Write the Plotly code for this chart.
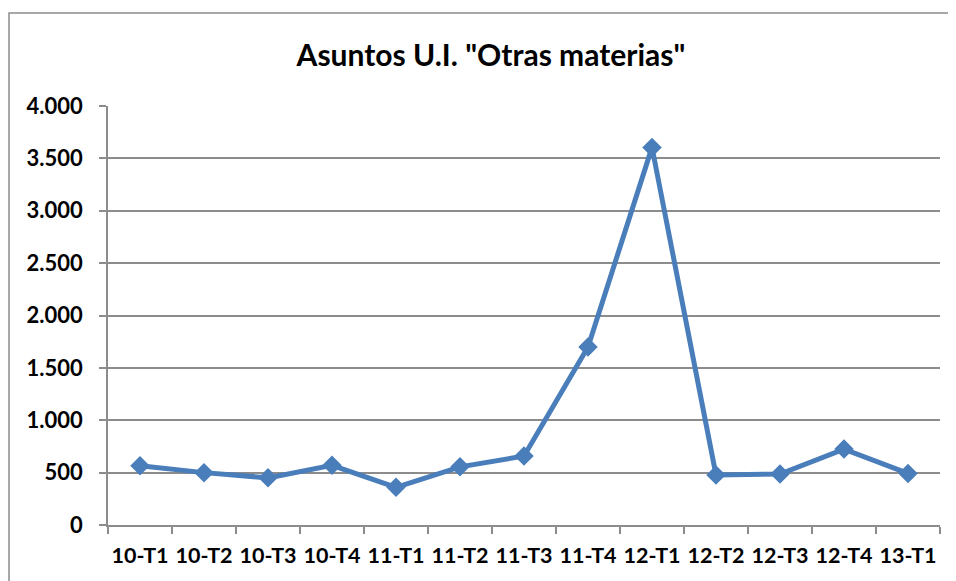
import plotly.graph_objects as go

categories = ["10-T1", "10-T2", "10-T3", "10-T4", "11-T1", "11-T2", "11-T3",
              "11-T4", "12-T1", "12-T2", "12-T3", "12-T4", "13-T1"]
values = [565, 500, 450, 570, 360, 555, 658, 1700, 3605, 477, 487, 725, 492]
y_ticks = [0, 500, 1000, 1500, 2000, 2500, 3000, 3500, 4000]
y_tick_text = ["0", "500", "1.000", "1.500", "2.000", "2.500", "3.000", "3.500", "4.000"]

BLUE = "#4a7ebb"
GRID = "#8c8c8c"
FONT = "Lato"

fig = go.Figure()
fig.add_trace(go.Scatter(
    x=categories, y=values, mode="lines+markers",
    line=dict(color=BLUE, width=5),
    marker=dict(symbol="diamond", size=15, color=BLUE),
    showlegend=False, hoverinfo="x+y",
))

# page body has an 8px default margin
OFF = 8
W, H = 956 - OFF, 581 - OFF
L, R, T, B = 108 - OFF, 16, 106 - OFF, 56
pw, ph = W - L - R, H - T - B

def px(x):
    return (x - OFF - L) / pw

def py(y):
    return (H - B - (y - OFF)) / ph

fig.update_layout(
    width=W, height=H,
    margin=dict(l=L, r=R, t=T, b=B, autoexpand=False),
    paper_bgcolor="white", plot_bgcolor="white",
    title=dict(text='<b>Asuntos U.I. "Otras materias"</b>',
               x=(491 - OFF) / W, xref="container", xanchor="center",
               y=1 - (55 - OFF) / H, yref="container", yanchor="middle",
               font=dict(family=FONT, size=30, color="black")),
    font=dict(family=FONT, color="black"),
    shapes=[dict(type="rect", xref="paper", yref="paper",
                 x0=px(9), x1=px(990), y0=py(620), y1=py(13),
                 line=dict(color="#8c8c8c", width=1.5), layer="below")],
)

fig.update_xaxes(
    type="category", range=[-0.5, len(categories) - 0.5],
    tickson="boundaries", ticks="outside", ticklen=7,
    tickcolor=GRID, tickwidth=1.5, tickangle=0, automargin=False,
    tickvals=categories, ticktext=["<b>%s</b>" % c for c in categories],
    showline=True, linecolor=GRID, linewidth=1.5,
    showgrid=False, tickfont=dict(family=FONT, size=21.5, color="black"),
    ticklabelstandoff=10,
)
fig.update_yaxes(
    range=[0, 4000.001], tickvals=y_ticks,
    ticktext=["<b>%s</b>" % t for t in y_tick_text], automargin=False,
    ticks="outside", ticklen=7, tickcolor=GRID, tickwidth=1.5,
    showline=True, linecolor=GRID, linewidth=1.5,
    showgrid=True, gridcolor=GRID, gridwidth=1.5, zeroline=False,
    tickfont=dict(family=FONT, size=22, color="black"),
    ticklabelstandoff=12,
)

fig.write_html("out.html")
